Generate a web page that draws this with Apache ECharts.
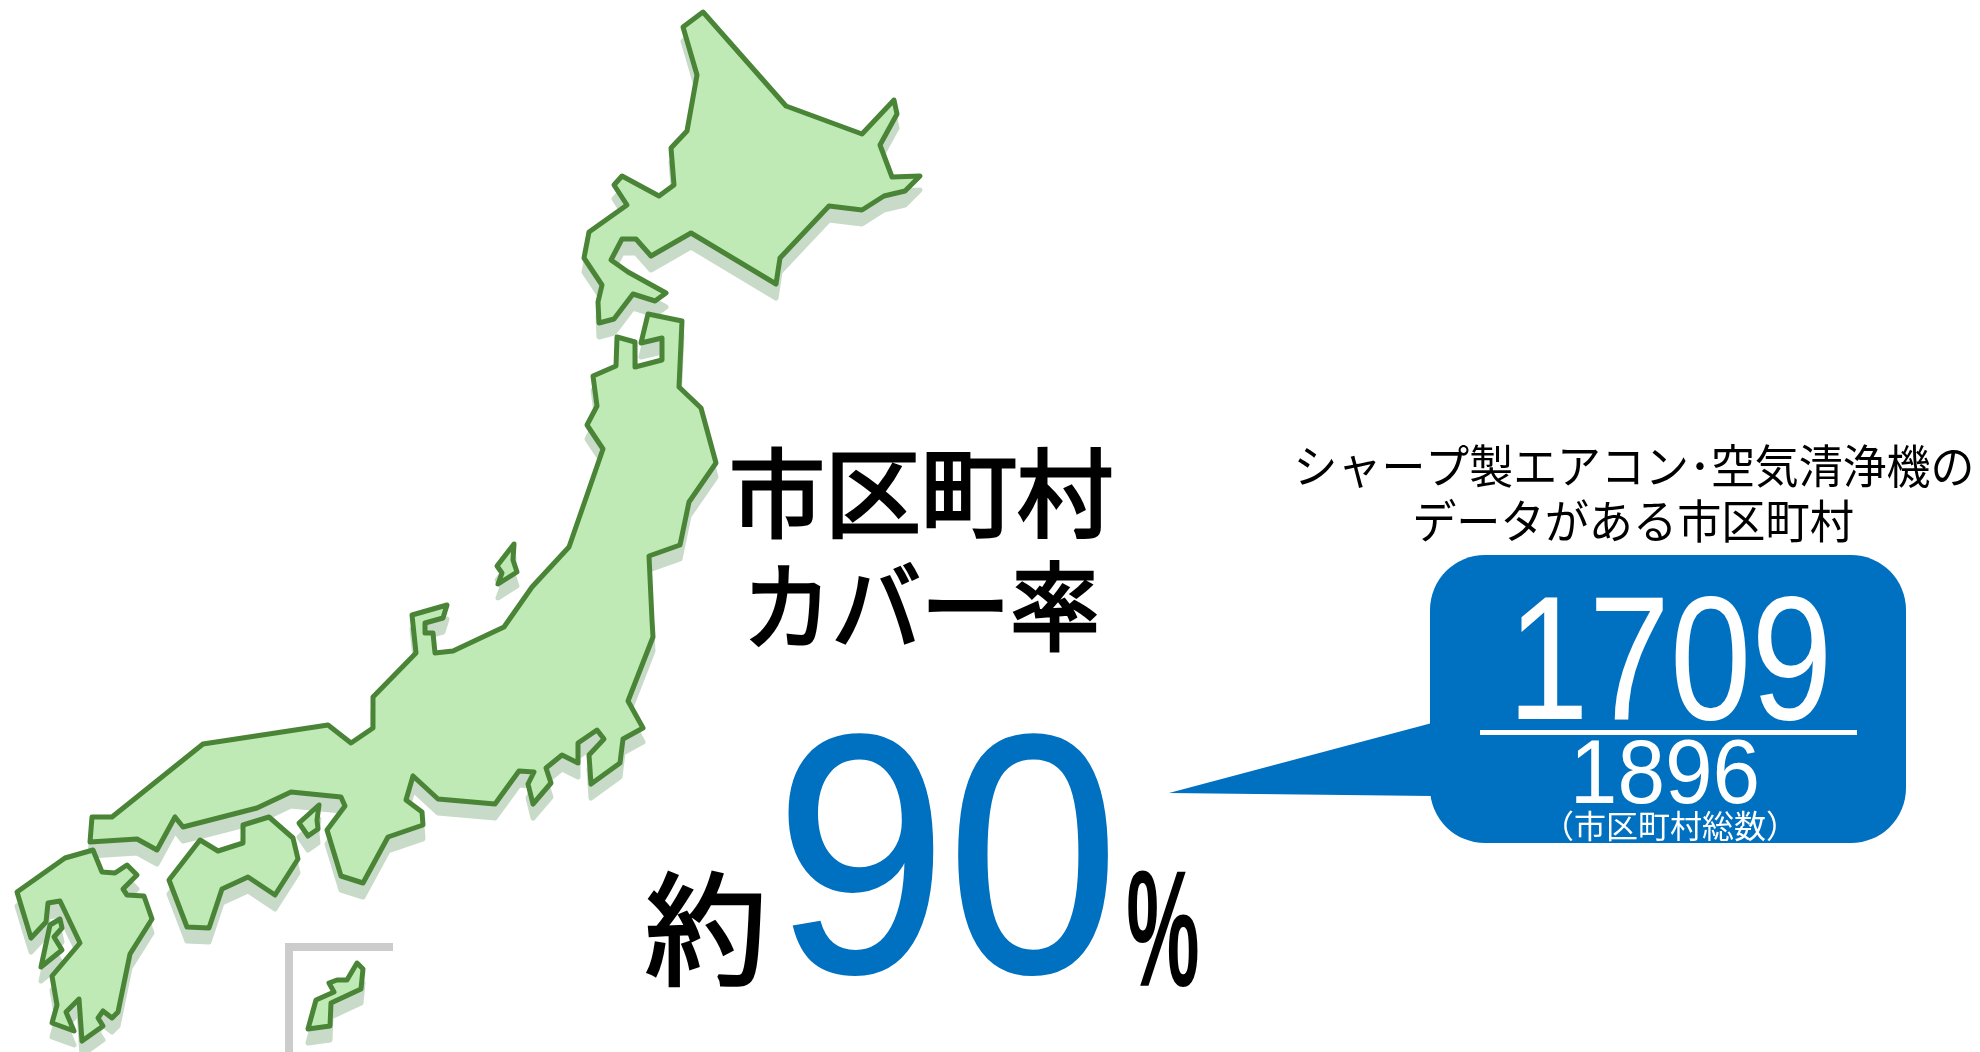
<!DOCTYPE html>
<html lang="ja">
<head>
<meta charset="utf-8">
<title>市区町村カバー率</title>
<style>
  html, body { margin: 0; padding: 0; background: #ffffff; }
  #chart { width: 1980px; height: 1052px; }
</style>
<script src="https://cdn.jsdelivr.net/npm/echarts@6/dist/echarts.min.js"></script>
</head>
<body>
<div id="chart"></div>
<script>
// Simplified outlines of the Japanese islands, in the map's own planar units.
const hokkaido = [[703,12],[683,27],[697,75],[687,131],[671,148],[674,185],[659,196],[622,176],[614,185],[627,205],[589,232],[584,258],[602,285],[598,302],[599,323],[614,319],[633,294],[655,301],[666,293],[628,272],[611,260],[622,239],[636,239],[651,256],[691,233],[776,284],[780,258],[829,206],[862,210],[884,196],[905,191],[920,176],[892,177],[880,145],[897,114],[894,100],[862,134],[786,106]];
const honshu = [[648,314],[682,321],[679,387],[701,408],[716,463],[689,502],[680,545],[649,556],[652,620],[653,637],[628,701],[643,728],[623,739],[620,763],[591,784],[589,755],[604,739],[597,730],[578,743],[578,763],[562,755],[546,768],[551,783],[533,804],[528,784],[534,772],[519,771],[495,804],[438,799],[413,776],[406,800],[422,812],[423,825],[388,837],[363,883],[341,876],[327,830],[345,806],[341,797],[291,792],[257,808],[183,827],[175,817],[157,850],[137,839],[90,842],[92,817],[112,817],[203,744],[328,725],[351,743],[373,728],[373,697],[416,653],[412,615],[447,605],[443,618],[425,623],[425,633],[433,633],[435,653],[453,651],[504,627],[532,587],[569,547],[603,449],[587,425],[597,406],[593,376],[616,366],[617,337],[635,342],[635,367],[662,360],[662,338],[641,343]];
const sado = [[514,544],[497,566],[502,573],[498,584],[517,572],[513,560]];
const awaji = [[319,805],[299,823],[308,836],[318,829],[317,820]];
const shikoku = [[169,880],[200,840],[218,851],[243,843],[243,825],[269,817],[293,838],[298,859],[275,895],[248,877],[222,889],[209,928],[187,927]];
const kyushu = [[93,850],[102,872],[115,873],[127,865],[137,875],[123,889],[127,895],[144,896],[152,919],[130,954],[118,1012],[112,1018],[103,1011],[98,1018],[103,1026],[82,1041],[79,999],[66,1012],[74,1031],[52,1023],[57,1005],[52,976],[80,943],[60,901],[48,903],[46,922],[31,938],[17,892],[65,858]];
const amakusa = [[60,919],[50,925],[41,967],[62,950],[54,937],[62,928]];
const okinawa = [[357,963],[363,969],[361,989],[331,1003],[330,1026],[308,1029],[316,1000],[334,992],[329,983],[337,980],[347,980]];

// Headline figures.
const coveredCount = 1709;
const totalCount = 1896;
const coverageRate = 90;

// Text shown beside the map.
const headingLines = ['市区町村', 'カバー率'];
const aboutLabel = '約';
const percentLabel = '%';
const sourceLines = ['シャープ製エアコン･空気清浄機の', 'データがある市区町村'];
const totalCaption = '（市区町村総数）';

const islands = [
  ['北海道', hokkaido], ['本州', honshu], ['佐渡島', sado], ['淡路島', awaji],
  ['四国', shikoku], ['九州', kyushu], ['天草', amakusa], ['沖縄', okinawa]
];

echarts.registerMap('japan', {
  type: 'FeatureCollection',
  features: islands.map(([name, ring]) => ({
    type: 'Feature',
    properties: { name },
    geometry: { type: 'Polygon', coordinates: [ring.concat([ring[0]])] }
  }))
});

const allPoints = islands.flatMap(([, ring]) => ring);
const xs = allPoints.map(p => p[0]);
const ys = allPoints.map(p => p[1]);
const mapBox = {
  left: Math.min(...xs),
  top: Math.min(...ys),
  width: Math.max(...xs) - Math.min(...xs),
  height: Math.max(...ys) - Math.min(...ys)
};

const flatProjection = { project: p => p, unproject: p => p };

function islandLayer(dy, fill, stroke, z) {
  return {
    map: 'japan',
    projection: flatProjection,
    roam: false,
    silent: true,
    z,
    left: mapBox.left,
    top: mapBox.top + dy,
    width: mapBox.width,
    height: mapBox.height,
    label: { show: false },
    tooltip: { show: false },
    emphasis: { disabled: true },
    select: { disabled: true },
    itemStyle: { areaColor: fill, borderColor: stroke, borderWidth: 5, borderJoin: 'round' }
  };
}

const JP = '"Noto Sans CJK JP", sans-serif';
const LATIN = '"Liberation Sans", Arial, sans-serif';
const BLUE = '#0070c0';

function text(content, x, y, size, family, fill, opts) {
  const o = opts || {};
  return {
    type: 'text', x, y, z: 10,
    scaleX: o.scaleX || 1, scaleY: o.scaleY || 1,
    style: {
      text: content, fill,
      font: (o.weight ? o.weight + ' ' : '') + size + 'px ' + family,
      textAlign: 'center', textVerticalAlign: 'middle',
      stroke: o.bold ? fill : null, lineWidth: o.bold || 0
    }
  };
}

const chart = echarts.init(document.getElementById('chart'), null, { renderer: 'canvas' });
chart.setOption({
  backgroundColor: '#ffffff',
  animation: false,
  geo: [
    islandLayer(14, '#c8dac8', '#c8dac8', 1),
    islandLayer(0, '#bfeab5', '#4a8537', 2)
  ],
  graphic: { elements: [
    // Inset corner marking Okinawa's displaced position.
    { type: 'rect', z: 3, shape: { x: 285, y: 943, width: 108, height: 8 }, style: { fill: '#cccccc' } },
    { type: 'rect', z: 3, shape: { x: 285, y: 943, width: 8, height: 109 }, style: { fill: '#cccccc' } },
    // Speech bubble holding the fraction.
    { type: 'rect', z: 5, shape: { x: 1430, y: 555, width: 476, height: 288, r: 55 }, style: { fill: BLUE } },
    { type: 'polygon', z: 5, shape: { points: [[1169, 793], [1432, 723], [1432, 796]] }, style: { fill: BLUE } },
    { type: 'rect', z: 6, shape: { x: 1480, y: 730, width: 377, height: 5 }, style: { fill: '#ffffff' } },

    text(headingLines[0], 921, 493, 96, JP, '#000000', { bold: 3 }),
    text(headingLines[1], 921, 606, 96, JP, '#000000', { bold: 3, scaleX: 0.93 }),
    text(aboutLabel, 706, 929, 122, JP, '#000000', { bold: 3 }),
    text(String(coverageRate), 947, 878, 340, LATIN, BLUE, { scaleX: 0.91, bold: 2 }),
    text(percentLabel, 1163, 940, 165, LATIN, '#000000', { scaleX: 0.5, weight: 'bold' }),
    text(sourceLines[0], 1634, 466, 46, JP, '#000000', { scaleX: 0.955 }),
    text(sourceLines[1], 1633, 521, 46, JP, '#000000', { scaleX: 0.96 }),
    text(String(coveredCount), 1670, 670, 176, LATIN, '#ffffff', { scaleX: 0.83 }),
    text(String(totalCount), 1665, 778, 91, LATIN, '#ffffff', { scaleX: 0.94 }),
    text(totalCaption, 1670, 826, 32, JP, '#ffffff')
  ] }
});
</script>
</body>
</html>
